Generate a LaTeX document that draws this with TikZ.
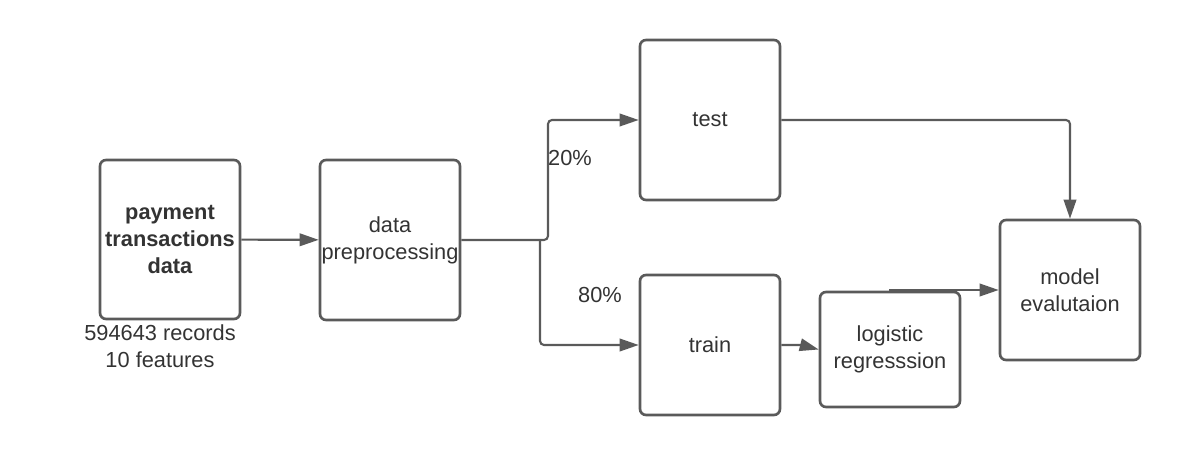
\documentclass[tikz,border=0pt]{standalone}
\usepackage{fontspec}
\setmainfont{Liberation Sans}
\usetikzlibrary{arrows.meta}
\definecolor{linegray}{RGB}{90,90,90}
\definecolor{textgray}{RGB}{51,51,51}
\tikzset{
  stage/.style={draw=linegray, line width=1.5pt, rounded corners=0.12cm,
    minimum width=2.8cm, inner sep=0pt, align=center, text=textgray,
    font=\fontsize{12.4}{15.4}\selectfont},
  conn/.style={draw=linegray, line width=1.2pt, rounded corners=0.08cm,
    -{Triangle[length=0.38cm,width=0.25cm]}},
  note/.style={text=textgray, align=center, font=\fontsize{12.4}{15.4}\selectfont}
}
\begin{document}
\begin{tikzpicture}[x=0.02cm,y=-0.02cm]
\useasboundingbox (0,0) rectangle (1180,455);

% boxes
\node[stage, minimum height=3.18cm] (pay) at (170,239.5) {\textbf{payment}\\\textbf{transactions}\\\textbf{data}};
\node[stage, minimum height=3.2cm] (prep) at (390,240) {data\\preprocessing};
\node[stage, minimum height=3.2cm] (test) at (710,120) {test};
\node[stage, minimum height=2.8cm] (train) at (710,345) {train};
\node[stage, minimum height=2.3cm] (logreg) at (890,349.5) {logistic\\regresssion};
\node[stage, minimum height=2.8cm] (eval) at (1070,290) {model\\evalutaion};

% labels
\node[note] (recs) at (160,346) {594643 records\\10 features};
\node[note] (pct20) at (570,158) {20\%};
\node[note] (pct80) at (600,295) {80\%};

% connectors
\coordinate (up) at (548,240);
\coordinate (down) at (540,240);
\draw[conn] (pay) -- (prep);
\draw[conn] (prep.east) -- (up) |- (test.west);
\draw[conn] (down) |- (train.west);
\draw[conn] (test.east) -| (eval.north);
\draw[conn, rounded corners=0pt] (train.east) -- ++(20,0) -- (logreg.west);
\draw[conn, rounded corners=0pt] (logreg.north) |- (eval.west);
\end{tikzpicture}
\end{document}
